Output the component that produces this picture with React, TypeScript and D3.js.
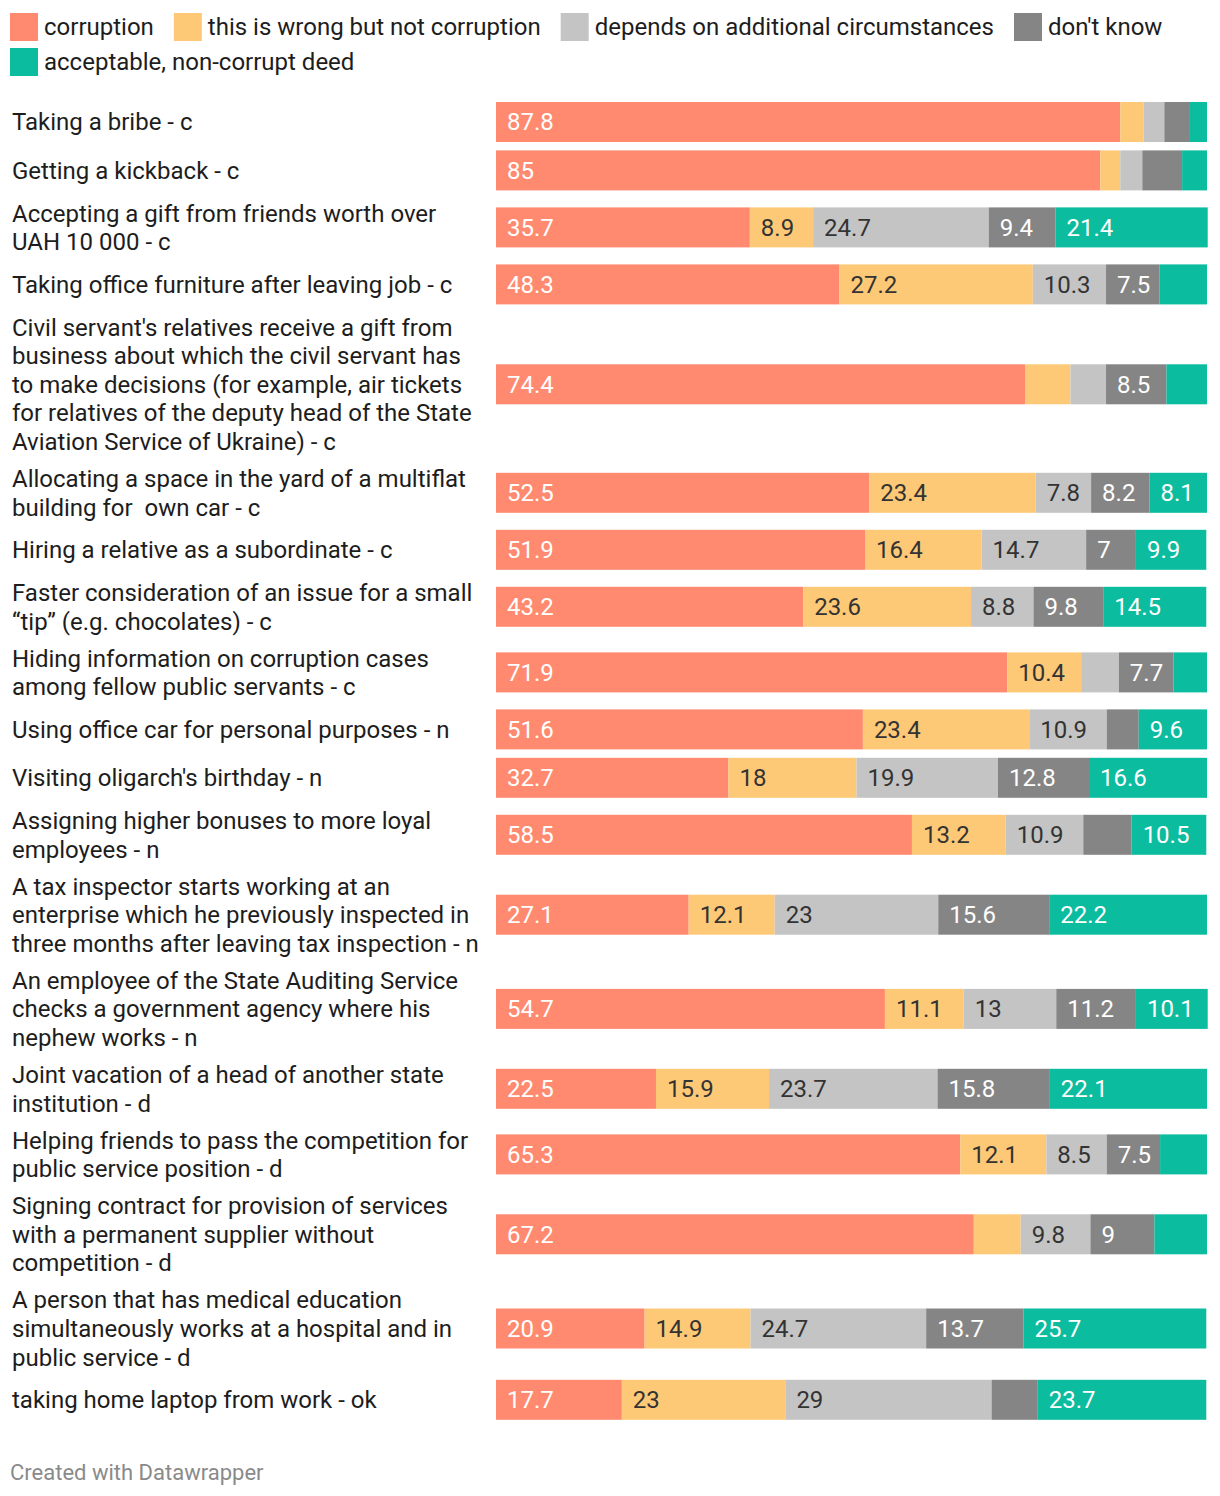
import { useEffect } from "react";
import * as d3 from "d3";

// survey answers, % of respondents (Datawrapper stacked bars)
const categories = [
  "corruption",
  "this is wrong but not corruption",
  "depends on additional circumstances",
  "don't know",
  "acceptable, non-corrupt deed",
];

const rowLabels = [
  "Taking a bribe - c",
  "Getting a kickback - c",
  "Accepting a gift from friends worth over\nUAH 10 000 - c",
  "Taking office furniture after leaving job - c",
  "Civil servant's relatives receive a gift from\nbusiness about which the civil servant has\nto make decisions (for example, air tickets\nfor relatives of the deputy head of the State\nAviation Service of Ukraine) - c",
  "Allocating a space in the yard of a multiflat\nbuilding for  own car - c",
  "Hiring a relative as a subordinate - c",
  "Faster consideration of an issue for a small\n\u201ctip\u201d (e.g. chocolates) - c",
  "Hiding information on corruption cases\namong fellow public servants - c",
  "Using office car for personal purposes - n",
  "Visiting oligarch's birthday - n",
  "Assigning higher bonuses to more loyal\nemployees - n",
  "A tax inspector starts working at an\nenterprise which he previously inspected in\nthree months after leaving tax inspection - n",
  "An employee of the State Auditing Service\nchecks a government agency where his\nnephew works - n",
  "Joint vacation of a head of another state\ninstitution - d",
  "Helping friends to pass the competition for\npublic service position - d",
  "Signing contract for provision of services\nwith a permanent supplier without\ncompetition - d",
  "A person that has medical education\nsimultaneously works at a hospital and in\npublic service - d",
  "taking home laptop from work - ok",
];

const corruption = [87.8, 85, 35.7, 48.3, 74.4, 52.5, 51.9, 43.2, 71.9, 51.6, 32.7, 58.5, 27.1, 54.7, 22.5, 65.3, 67.2, 20.9, 17.7];
const wrongNotCorruption = [3.3, 2.8, 8.9, 27.2, 6.4, 23.4, 16.4, 23.6, 10.4, 23.4, 18, 13.2, 12.1, 11.1, 15.9, 12.1, 6.6, 14.9, 23];
const depends = [2.9, 3.1, 24.7, 10.3, 5.0, 7.8, 14.7, 8.8, 5.3, 10.9, 19.9, 10.9, 23, 13, 23.7, 8.5, 9.8, 24.7, 29];
const dontKnow = [3.6, 5.6, 9.4, 7.5, 8.5, 8.2, 7, 9.8, 7.7, 4.5, 12.8, 6.8, 15.6, 11.2, 15.8, 7.5, 9, 13.7, 6.5];
const acceptable = [2.4, 3.5, 21.4, 6.7, 5.7, 8.1, 9.9, 14.5, 4.7, 9.6, 16.6, 10.5, 22.2, 10.1, 22.1, 6.6, 7.4, 25.7, 23.7];

const series = [corruption, wrongNotCorruption, depends, dontKnow, acceptable];

const COLORS = ["#ff8a6f", "#fec977", "#c4c4c4", "#858585", "#0bbc9e"];
const LABEL_FILL = ["#fff", "#333", "#333", "#fff", "#fff"];

const FONT = "Roboto, 'Noto Sans', sans-serif";
const W = 1220;
const H = 1496;
const FS = 24;
const LINE_H = 28.6;
const GAP = 8.4;
const BAR_H = 40;
const BAR_X0 = 496;
const BAR_X1 = 1207;
const LABEL_PAD = 11;

let ctx: CanvasRenderingContext2D | null = null;
function textWidth(s: string, size = FS) {
  if (!ctx) ctx = document.createElement("canvas").getContext("2d");
  if (!ctx) return s.length * size * 0.5;
  ctx.font = `${size}px Roboto`;
  return ctx.measureText(s).width;
}

type Row = { label: string; values: number[] };

export default function App() {
  useEffect(() => {
    document.body.style.margin = "0";
  }, []);

  const rows: Row[] = rowLabels.map((label, i) => ({
    label,
    values: series.map((s) => s[i]),
  }));

  const x = d3.scaleLinear().domain([0, 100]).range([BAR_X0, BAR_X1]);

  // row centres: stack each row's height (label block or bar) with a gap
  const heights = rows.map((r) => Math.max(BAR_H, r.label.split("\n").length * LINE_H));
  const centers: number[] = [];
  let acc = 122 - heights[0] / 2;
  heights.forEach((h) => {
    centers.push(acc + h / 2);
    acc += h + GAP;
  });

  const stacked = d3
    .stack<Row, number>()
    .keys(d3.range(categories.length))
    .value((d, k) => d.values[k])(rows);

  // legend flow layout
  const legendItems: { x: number; y: number; i: number }[] = [];
  let lx = 10;
  let ly = 27;
  categories.forEach((c, i) => {
    const w = 34 + textWidth(c);
    if (lx + w > W - 10) {
      lx = 10;
      ly += 35;
    }
    legendItems.push({ x: lx, y: ly, i });
    lx += w + 20;
  });

  return (
    <svg width={W} height={H} style={{ display: "block", background: "#fff" }} fontFamily={FONT}>
      <g className="legend">
        {legendItems.map((d) => (
          <g key={d.i} transform={`translate(${d.x},${d.y})`}>
            <rect x={0} y={-14} width={28} height={28} fill={COLORS[d.i]} />
            <text x={34} dy="0.35em" fontSize={FS} fill="#1d1d1d">
              {categories[d.i]}
            </text>
          </g>
        ))}
      </g>

      <g className="labels">
        {rows.map((r, i) => {
          const lines = r.label.split("\n");
          const top = centers[i] - ((lines.length - 1) * LINE_H) / 2;
          return (
            <text key={i} x={12} fontSize={FS} fill="#1d1d1d" style={{ whiteSpace: "pre" }}>
              {lines.map((l, j) => (
                <tspan key={j} x={12} y={top + j * LINE_H} dy="0.35em">
                  {l}
                </tspan>
              ))}
            </text>
          );
        })}
      </g>

      <g className="bars">
        {stacked.map((layer, k) =>
          layer.map((seg, i) => {
            const x0 = x(seg[0]);
            const w = x(seg[1]) - x0;
            const v = rows[i].values[k];
            const txt = d3.format("~g")(v);
            // value shown only when the segment is wide enough and the text fits with padding
            const fits = w >= 49.5 && w - textWidth(txt) >= 19.6;
            return (
              <g key={`${k}-${i}`}>
                <rect x={x0} y={centers[i] - BAR_H / 2} width={w} height={BAR_H} fill={COLORS[k]} />
                {fits && (
                  <text x={x0 + LABEL_PAD} y={centers[i]} dy="0.35em" fontSize={FS} fill={LABEL_FILL[k]}>
                    {txt}
                  </text>
                )}
              </g>
            );
          })
        )}
      </g>

      <text x={10} y={1472} dy="0.35em" fontSize={22} fill="#8a8a8a">
        Created with Datawrapper
      </text>
    </svg>
  );
}
